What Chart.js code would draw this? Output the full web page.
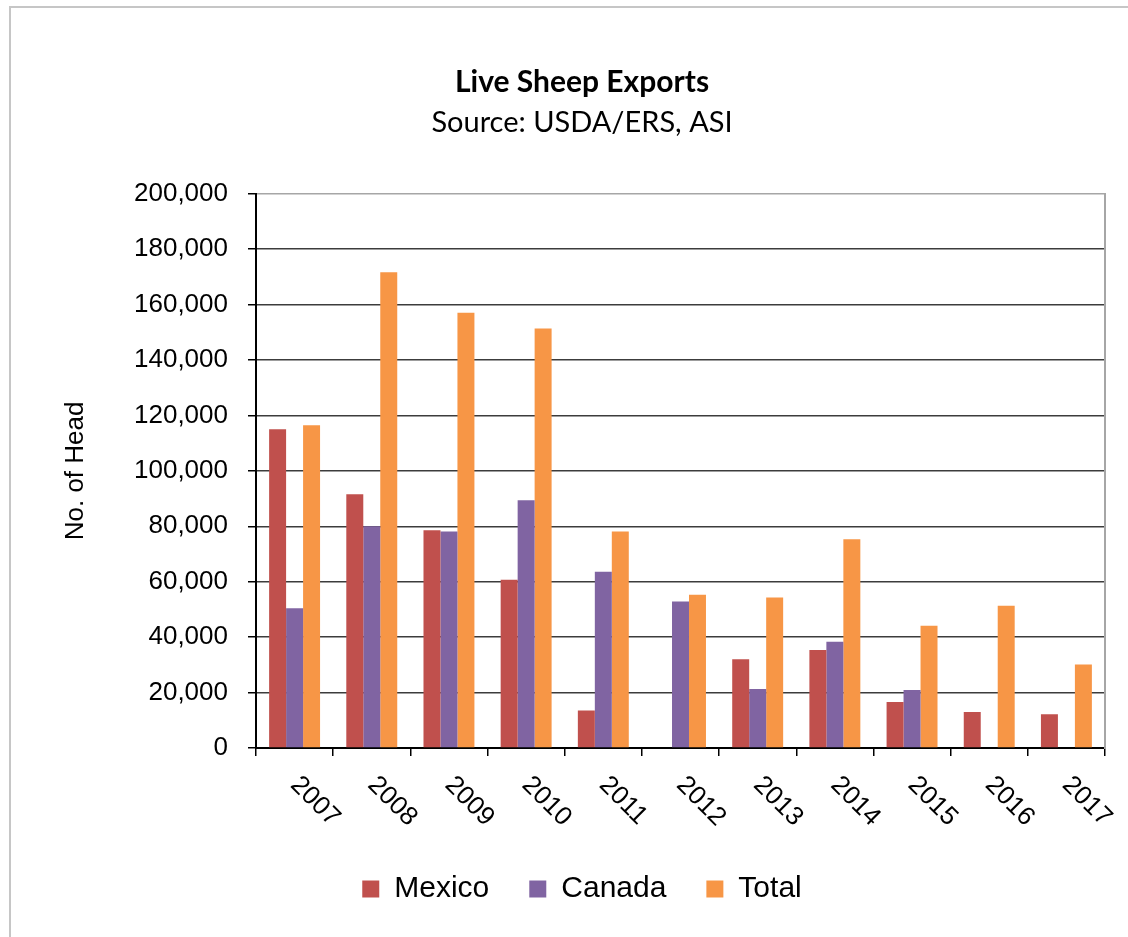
<!DOCTYPE html>
<html>
<head>
<meta charset="utf-8">
<script src="https://cdn.jsdelivr.net/npm/chart.js@4/dist/chart.umd.min.js"></script>
<style>
  html, body { margin: 0; padding: 0; background: #ffffff; }
  #wrap { position: relative; width: 1128px; height: 937px; }
  #frame { position: absolute; left: 9px; top: 6px; right: 0; bottom: 0;
           border-left: 2px solid #c6c6c6; border-top: 2px solid #c6c6c6; }
  canvas { position: absolute; left: 0; top: 0; }
</style>
</head>
<body>
<div id="wrap">
  <div id="frame"></div>
  <canvas id="c" width="1128" height="937"></canvas>
</div>
<script>
// ---- data ----
const years = ['2007','2008','2009','2010','2011','2012','2013','2014','2015','2016','2017'];
const mexico = [115000, 91600, 78600, 60700, 13500, null, 32000, 35400, 16600, 13000, 12200];
const canada = [50400, 80000, 78100, 89400, 63600, 52900, 21300, 38300, 20900, null, null];
const total  = [116500, 171700, 157100, 151400, 78100, 55300, 54300, 75300, 44100, 51300, 30100];
const seriesNames = ['Mexico', 'Canada', 'Total'];
const yMin = 0, yMax = 200000, yStep = 20000;

const xLabelPlugin = {
  id: 'xLabels',
  afterDraw(chart) {
    const ctx = chart.ctx;
    const xs = chart.scales.x;
    const bottom = chart.chartArea.bottom;
    ctx.save();
    ctx.fillStyle = '#000';
    ctx.font = '26px "Liberation Sans", Arial, sans-serif';
    ctx.textAlign = 'left';
    ctx.textBaseline = 'middle';
    years.forEach((lab, i) => {
      const x = xs.getPixelForTick(i);
      ctx.save();
      ctx.translate(x, bottom + 33);
      ctx.rotate(Math.PI / 4);
      ctx.fillText(lab, 0, 0);
      ctx.restore();
    });
    ctx.restore();
  }
};

new Chart(document.getElementById('c'), {
  type: 'bar',
  data: {
    labels: years,
    datasets: [
      { label: seriesNames[0], data: mexico, backgroundColor: '#C0504D' },
      { label: seriesNames[1], data: canada, backgroundColor: '#8064A2' },
      { label: seriesNames[2], data: total,  backgroundColor: '#F79646' }
    ]
  },
  options: {
    responsive: false,
    animation: false,
    devicePixelRatio: 1,
    layout: { padding: { top: 0, left: 36, right: 0, bottom: 23 } },
    datasets: { bar: { categoryPercentage: 0.66, barPercentage: 1.0 } },
    plugins: {
      title: {
        display: true,
        text: 'Live Sheep Exports',
        color: '#000',
        font: { family: 'Lato, "Open Sans", sans-serif', size: 30, weight: 'bold' },
        padding: { top: 64, bottom: 5 }
      },
      subtitle: {
        display: true,
        text: 'Source: USDA/ERS, ASI',
        color: '#000',
        font: { family: 'Lato, "Open Sans", sans-serif', size: 29, weight: 'normal' },
        padding: { top: 0, bottom: 54 }
      },
      legend: {
        position: 'bottom',
        labels: {
          color: '#000',
          boxWidth: 17,
          boxHeight: 17,
          padding: 40,
          font: { family: '"Liberation Sans", Arial, sans-serif', size: 30 }
        }
      },
      tooltip: { enabled: false }
    },
    scales: {
      x: {
        afterFit(s) { s.height = 86; },
        grid: { display: true, drawOnChartArea: false, drawTicks: true, tickLength: 8, color: '#000', lineWidth: 1.5, offset: true },
        border: { display: true, color: '#000', width: 2 },
        ticks: { display: false }
      },
      y: {
        min: yMin, max: yMax,
        afterFit(s) { s.width = 220; },
        ticks: {
          stepSize: yStep,
          padding: 20,
          color: '#000',
          font: { family: '"Liberation Sans", Arial, sans-serif', size: 26 },
          callback: (v) => Number(v).toLocaleString('en-US')
        },
        grid: {
          drawTicks: true, tickLength: 8, lineWidth: 1.5,
          color: (c) => (c.tick && c.tick.value === yMax) ? '#a6a6a6' : '#3c3c3c',
          tickColor: '#000'
        },
        border: { display: true, color: '#000', width: 2 },
        title: {
          display: true,
          text: 'No. of Head',
          color: '#000',
          font: { family: '"Liberation Sans", Arial, sans-serif', size: 26 },
          padding: { top: 24, bottom: 0 }
        }
      },
      y2: {
        position: 'right',
        display: true,
        min: yMin, max: yMax,
        afterFit(s) { s.width = 23; },
        ticks: { display: false },
        grid: { drawOnChartArea: false, drawTicks: false },
        border: { display: true, color: '#a6a6a6', width: 2 }
      }
    }
  },
  plugins: [xLabelPlugin]
});
</script>
</body>
</html>
